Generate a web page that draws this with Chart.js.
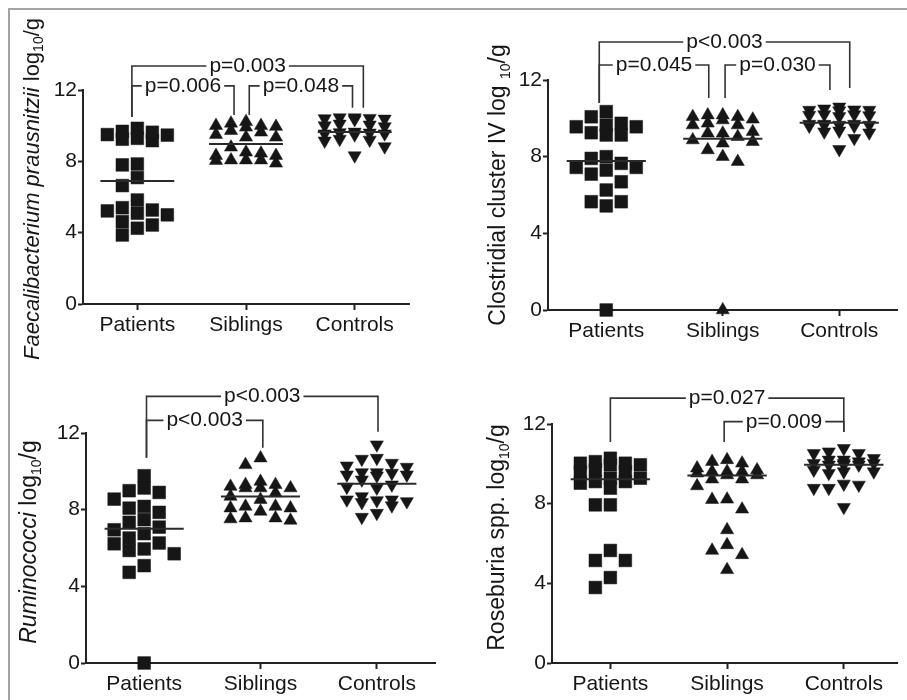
<!DOCTYPE html>
<html><head><meta charset="utf-8">
<script src="https://cdn.jsdelivr.net/npm/chart.js@4.4.1/dist/chart.umd.min.js"></script>
<style>
body{margin:0;background:#fff;width:907px;height:700px;overflow:hidden;position:relative;font-family:'Liberation Sans',Arial,sans-serif}
canvas{position:absolute}
#frame{position:absolute;left:8px;top:8px;width:905px;height:700px;border-top:2px solid #a3a3a3;border-left:2px solid #a3a3a3}
</style></head><body>
<div id="frame"></div>
<canvas id="c1" width="440" height="360" style="left:10px;top:10px"></canvas>
<canvas id="c2" width="454" height="360" style="left:453px;top:10px"></canvas>
<canvas id="c3" width="440" height="330" style="left:10px;top:370px"></canvas>
<canvas id="c4" width="454" height="330" style="left:453px;top:370px"></canvas>
<script>
// ---------- DATA ----------
const groups = ['Patients', 'Siblings', 'Controls'];
const yTicks = [0, 4, 8, 12];

// Faecalibacterium prausnitzii
const faecaliPatients = [9.85, 9.47, 9.68, 9.24, 9.16, 9.63, 9.29, 9.50, 7.80, 7.85, 7.09, 6.64, 5.83, 5.22, 5.40, 5.00, 4.43, 4.62, 3.87, 5.09, 4.25, 5.27];
const faecaliSiblings = [9.95, 9.50, 9.91, 9.35, 10.13, 9.63, 10.0, 9.72, 9.35, 10.22, 10.0, 8.07, 8.51, 8.07, 8.32, 8.79, 7.89, 8.32, 8.07, 8.45, 8.04];
const faecaliControls = [10.45, 10.40, 10.42, 10.38, 10.45, 10.35, 10.05, 10.0, 10.1, 9.95, 9.60, 9.55, 9.65, 9.50, 9.62, 9.55, 9.20, 9.25, 9.15, 8.83, 8.32];
const faecaliMedians = [6.9, 8.97, 9.65];

// Clostridial cluster IV
const clostPatients = [10.35, 10.08, 9.74, 9.65, 9.56, 9.56, 9.25, 9.13, 9.13, 7.91, 7.30, 7.65, 8.0, 7.44, 7.44, 7.09, 6.69, 6.26, 5.65, 5.43, 5.65, 0];
const clostSiblings = [9.95, 10.08, 10.17, 10.08, 10.17, 9.91, 9.65, 9.65, 9.74, 9.22, 9.30, 9.22, 8.87, 8.70, 8.78, 9.04, 8.35, 8.0, 7.74, 0];
const clostControls = [10.6, 10.45, 10.43, 10.5, 10.4, 10.43, 10.2, 10.17, 10.15, 10.1, 10.2, 9.7, 9.65, 9.6, 9.7, 9.65, 9.6, 9.7, 9.65, 9.35, 9.3, 9.25, 8.96, 8.38];
const clostMedians = [7.78, 8.93, 9.77];

// Ruminococci
const rumiPatients = [9.77, 9.13, 8.99, 8.90, 8.55, 8.17, 8.08, 7.86, 7.48, 7.34, 7.09, 6.95, 6.75, 6.52, 6.26, 6.22, 5.95, 5.87, 5.70, 5.08, 4.73, 0];
const rumiSiblings = [10.69, 10.34, 9.30, 9.13, 9.13, 9.47, 9.30, 9.21, 9.13, 8.87, 8.69, 8.52, 7.91, 8.17, 8.08, 8.08, 8.17, 7.51, 7.56, 7.44, 7.56];
const rumiControls = [11.39, 10.69, 10.64, 10.43, 10.29, 10.22, 9.94, 9.91, 9.94, 9.82, 9.77, 9.82, 9.56, 9.30, 9.18, 9.13, 8.69, 8.52, 8.48, 8.43, 8.38, 8.21, 8.52, 7.82, 7.61];
const rumiMedians = [7.0, 8.69, 9.35];

// Roseburia spp.
const rosePatients = [10.28, 10.11, 10.03, 10.03, 9.95, 9.95, 9.70, 9.61, 9.60, 9.28, 9.28, 9.11, 9.11, 9.03, 8.78, 7.94, 7.94, 5.65, 5.15, 5.15, 4.29, 3.79];
const roseSiblings = [10.11, 9.61, 9.44, 9.53, 9.69, 9.61, 10.03, 9.61, 9.78, 10.20, 9.44, 9.23, 9.23, 8.89, 8.20, 8.22, 7.72, 6.68, 5.93, 5.65, 5.43, 4.68];
const roseControls = [10.78, 10.53, 10.61, 10.53, 10.03, 9.95, 10.03, 10.11, 10.20, 10.20, 10.28, 10.03, 9.95, 9.95, 9.61, 9.61, 9.69, 9.53, 8.99, 8.78, 8.78, 8.94, 7.82];
const roseMedians = [9.23, 9.41, 9.95];

// p-value comparisons
const faecaliP = ['p=0.003', 'p=0.006', 'p=0.048'];
const clostP = ['p<0.003', 'p=0.045', 'p=0.030'];
const rumiP = ['p<0.003', 'p<0.003'];
const roseP = ['p=0.027', 'p=0.009'];

// ---------- HELPERS ----------
const INK = '#161616';
const FONT = "'Liberation Sans', Arial, sans-serif";

// deterministic column-based dot layout (pixel space, max 5 columns), returns x offsets in px
function swarmOffsets(values, pxY, colPx, thr) {
  const order = values.map((v, i) => i).sort((a, b) => values[b] - values[a]);
  const seq = [0, -1, 1, -2, 2];
  const cols = {};
  seq.forEach(k => { cols[k] = []; });
  const off = new Array(values.length).fill(0);
  for (const i of order) {
    const y = values[i] * pxY;
    let best = null, bestGap = -1;
    for (const k of seq) {
      const gap = cols[k].reduce((m, yy) => Math.min(m, Math.abs(yy - y)), Infinity);
      if (gap >= thr) { best = k; break; }
      if (gap > bestGap + 0.5) { bestGap = gap; best = k; }
    }
    cols[best].push(y);
    off[i] = best * colPx;
  }
  return off;
}

const bracketPlugin = {
  id: 'brackets',
  afterDraw(chart) {
    const cfg = chart.options.plugins.brackets;
    if (!cfg) return;
    const ctx = chart.ctx, xs = chart.scales.x, ys = chart.scales.y;
    ctx.save();
    ctx.strokeStyle = '#333'; ctx.lineWidth = 1.6; ctx.fillStyle = INK;
    ctx.font = '21px ' + FONT; ctx.textAlign = 'center'; ctx.textBaseline = 'alphabetic';
    for (const b of cfg.items) {
      const x1 = xs.getPixelForValue(b.x1), x2 = xs.getPixelForValue(b.x2);
      const y = ys.getPixelForValue(b.y), yl = ys.getPixelForValue(b.yl), yr = ys.getPixelForValue(b.yr);
      const mid = (x1 + x2) / 2, tw = ctx.measureText(b.text).width;
      ctx.beginPath();
      ctx.moveTo(x1, yl); ctx.lineTo(x1, y); ctx.lineTo(mid - tw / 2 - 3, y);
      ctx.moveTo(mid + tw / 2 + 3, y); ctx.lineTo(x2, y); ctx.lineTo(x2, yr);
      ctx.stroke();
      ctx.fillText(b.text, mid, y + 6);
    }
    ctx.restore();
  }
};

const yTitlePlugin = {
  id: 'ytitle',
  afterDraw(chart) {
    const t = chart.options.plugins.ytitle;
    if (!t) return;
    const ctx = chart.ctx, a = chart.chartArea;
    const cx = a.left + t.dx, cy = (a.top + a.bottom) / 2 + t.dy;
    const size = t.size, sub = Math.round(size * 0.62);
    const segs = t.segments.map(s => {
      const f = (s.italic ? 'italic ' : '') + (s.sub ? sub : size) + 'px ' + FONT;
      ctx.font = f;
      return { ...s, f, w: ctx.measureText(s.text).width };
    });
    const total = segs.reduce((s, g) => s + g.w, 0);
    ctx.save();
    ctx.translate(cx, cy); ctx.rotate(-Math.PI / 2);
    ctx.fillStyle = INK; ctx.textBaseline = 'middle'; ctx.textAlign = 'left';
    let x = -total / 2;
    for (const s of segs) {
      ctx.font = s.f;
      ctx.fillText(s.text, x, s.sub ? size * 0.3 : 0);
      x += s.w;
    }
    ctx.restore();
  }
};

function makePanel(id, p) {
  const styles = [
    { pointStyle: 'rect', radius: 9, rotation: 0 },
    { pointStyle: 'triangle', radius: 7.6, rotation: 0 },
    { pointStyle: 'triangle', radius: 7.6, rotation: 180 }
  ];
  const datasets = [];
  p.series.forEach((vals, g) => {
    datasets.push({
      data: vals.map(v => ({ x: g, y: v })),
      pointStyle: styles[g].pointStyle, pointRadius: styles[g].radius, pointRotation: styles[g].rotation,
      backgroundColor: INK, borderColor: INK, pointBorderWidth: 0.5, clip: false, order: 1
    });
  });
  p.medians.forEach((m, g) => {
    datasets.push({
      data: [{ x: g - 0.34, y: m }, { x: g + 0.34, y: m }],
      showLine: true, pointRadius: 0, borderColor: '#2a2a2a', borderWidth: 2, clip: false, order: 0
    });
  });
  const chart = new Chart(document.getElementById(id), {
    type: 'scatter',
    data: { datasets },
    plugins: [bracketPlugin, yTitlePlugin],
    options: {
      responsive: false, animation: false, devicePixelRatio: 1,
      layout: { padding: p.padding },
      plugins: {
        legend: { display: false }, tooltip: { enabled: false },
        brackets: { items: p.brackets },
        ytitle: p.title
      },
      scales: {
        x: {
          type: 'linear', min: -0.5, max: p.xmax,
          afterBuildTicks: s => { s.ticks = groups.map((g, i) => ({ value: i })); },
          afterFit: s => { s.height = p.xh; },
          ticks: { callback: v => groups[v], font: { size: 21, family: FONT }, color: INK, padding: 3, maxRotation: 0, autoSkip: false },
          grid: { display: true, drawOnChartArea: false, drawTicks: true, tickLength: 6, tickColor: '#222', tickWidth: 2, color: '#222' },
          border: { display: true, color: '#222', width: 2 }
        },
        y: {
          min: 0, max: 12,
          afterBuildTicks: s => { s.ticks = yTicks.map(v => ({ value: v })); },
          afterFit: s => { s.width = 40; },
          ticks: { font: { size: 21, family: FONT }, color: INK, padding: 1 },
          grid: { display: true, drawOnChartArea: false, drawTicks: true, tickLength: 5, tickColor: '#222', tickWidth: 2, color: '#222' },
          border: { display: true, color: '#222', width: 2 }
        }
      }
    }
  });
  const xs = chart.scales.x, ys = chart.scales.y;
  const pxCat = xs.getPixelForValue(1) - xs.getPixelForValue(0);
  const pxY = Math.abs(ys.getPixelForValue(0) - ys.getPixelForValue(1));
  p.series.forEach((vals, g) => {
    const off = swarmOffsets(vals, pxY, 15, 12);
    chart.data.datasets[g].data = vals.map((v, i) => ({ x: g + off[i] / pxCat, y: v }));
  });
  chart.update('none');
  return chart;
}

makePanel('c1', {
  series: [faecaliPatients, faecaliSiblings, faecaliControls], medians: faecaliMedians,
  padding: { left: 33, top: 80, right: 41, bottom: 26 }, xh: 40, xmax: 2.5,
  title: { dx: -50, dy: -8, size: 22, segments: [
    { text: 'Faecalibacterium prausnitzii', italic: true }, { text: ' log' }, { text: '10', sub: true }, { text: '/g' }] },
  brackets: [
    { x1: -0.05, x2: 2.08, y: 13.35, yl: 10.49, yr: 11.0, text: faecaliP[0] },
    { x1: -0.05, x2: 0.89, y: 12.23, yl: 10.49, yr: 10.6, text: faecaliP[1] },
    { x1: 1.03, x2: 1.98, y: 12.23, yl: 10.6, yr: 11.0, text: faecaliP[2] }
  ]
});

makePanel('c2', {
  series: [clostPatients, clostSiblings, clostControls], medians: clostMedians,
  padding: { left: 55, top: 70, right: 9, bottom: 20 }, xh: 40, xmax: 2.5,
  title: { dx: -49, dy: -10, size: 23, segments: [
    { text: 'Clostridial cluster IV log ' }, { text: '10', sub: true }, { text: '/g' }] },
  brackets: [
    { x1: -0.06, x2: 2.09, y: 13.98, yl: 10.8, yr: 11.58, text: clostP[0] },
    { x1: -0.06, x2: 0.88, y: 12.78, yl: 10.8, yr: 11.06, text: clostP[1] },
    { x1: 1.02, x2: 1.92, y: 12.78, yl: 11.06, yr: 11.48, text: clostP[2] }
  ]
});

makePanel('c3', {
  series: [rumiPatients, rumiSiblings, rumiControls], medians: rumiMedians,
  padding: { left: 36, top: 63, right: 15, bottom: 0 }, xh: 37, xmax: 2.5,
  title: { dx: -56, dy: -6, size: 23, segments: [
    { text: 'Ruminococci', italic: true }, { text: ' log' }, { text: '10', sub: true }, { text: '/g' }] },
  brackets: [
    { x1: 0.02, x2: 2.01, y: 13.91, yl: 10.71, yr: 12.07, text: rumiP[0] },
    { x1: 0.02, x2: 1.02, y: 12.66, yl: 10.71, yr: 11.23, text: rumiP[1] }
  ]
});

makePanel('c4', {
  series: [rosePatients, roseSiblings, roseControls], medians: roseMedians,
  padding: { left: 59, top: 54, right: 0, bottom: 0 }, xh: 37, xmax: 2.46,
  title: { dx: -54, dy: -6, size: 23, segments: [
    { text: 'Roseburia spp. log' }, { text: '10', sub: true }, { text: '/g' }] },
  brackets: [
    { x1: 0, x2: 2.0, y: 13.3, yl: 11.1, yr: 11.6, text: roseP[0] },
    { x1: 0.975, x2: 2.0, y: 12.12, yl: 11.1, yr: 11.6, text: roseP[1] }
  ]
});
</script>
</body></html>
